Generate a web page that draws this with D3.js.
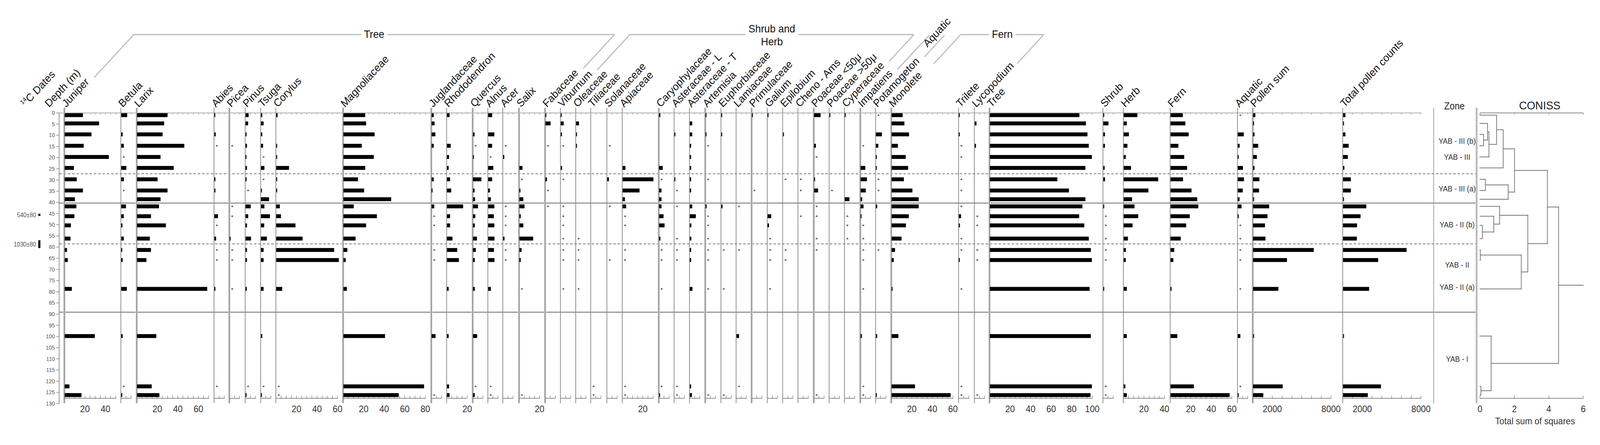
<!DOCTYPE html>
<html>
<head>
<meta charset="utf-8">
<script src="https://cdn.jsdelivr.net/npm/d3@7/dist/d3.min.js"></script>
<style>
  html, body { margin: 0; padding: 0; background: #fff; overflow: hidden; }
  svg { display: block; width: 100vw; height: 100vh; font-family: "Liberation Sans", Arial, sans-serif; }
</style>
</head>
<body>
<svg id="chart"></svg>
<script>
// sample depths (m)
var depths = [1, 4.7, 9.6, 14.7, 19.7, 24.6, 29.7, 34.7, 38.6, 41.8, 46.2, 50.3, 56.2, 61.3, 65.8, 78.7, 99.8, 122.3, 126.2];

var taxa = ['Juniper', 'Betula', 'Larix', 'Abies', 'Picea', 'Pinus', 'Tsuga', 'Corylus', 'Magnoliaceae',
  'Juglandaceae', 'Rhododendron', 'Quercus', 'Alnus', 'Acer', 'Salix', 'Fabaceae', 'Viburnum', 'Oleaceae',
  'Tiliaceae', 'Solanaceae', 'Apiaceae', 'Caryophylaceae', 'Asteraceae - L', 'Asteraceae - T', 'Artemisia',
  'Euphorbiaceae', 'Lamiaceae', 'Primulaceae', 'Galium', 'Epilobium', 'Cheno - Ams', 'Poaceae <50\u03bc',
  'Poaceae >50\u03bc', 'Cyperaceae', 'Impatiens', 'Potamogeton', 'Monolete', 'Trilete', 'Lycopodium',
  'Tree', 'Shrub', 'Herb', 'Fern', 'Aquatic', 'Pollen sum', 'Total pollen counts'];

// percentages (0.3 = trace, drawn as +)
var juniper = [17.7, 33.4, 26, 18.5, 42.9, 8.9, 11.7, 17.7, 9.9, 11.3, 9.4, 6, 5.6, 2.2, 3, 6.9, 29.3, 4.6, 16.3];
var betula = [5.8, 0, 1.4, 2.5, 0.3, 5, 2.6, 0.3, 0, 4.6, 2.5, 1.2, 2.5, 1, 1.4, 5.5, 1.4, 0.3, 1];
var larix = [29.6, 26.3, 24.8, 45.9, 22.8, 35.6, 19.9, 29.6, 22.8, 21.3, 13.5, 28, 12.4, 13.5, 9.1, 68.2, 18.7, 14.2, 21.7];
var abies = [0.8, 0, 1.3, 0.3, 0, 0, 1, 1, 0, 0, 3.5, 0.3, 1.7, 0.3, 0.3, 1, 0, 0.3, 0];
var picea = [0, 0, 0, 0.3, 0, 0, 0, 0, 0, 0.3, 0.3, 0, 0.8, 0.3, 0.3, 0.3, 0, 0, 0];
var pinus = [3, 2.5, 1, 1.4, 0.9, 1.4, 1, 0.3, 0, 5, 2.6, 1.4, 5.3, 1.4, 1.4, 1.2, 0, 0.3, 1];
var tsuga = [1.2, 2.5, 1.2, 2, 0.3, 3.3, 0.3, 0.8, 7.8, 3.3, 8.7, 3.1, 5.7, 2.5, 2.5, 2.5, 1.2, 0.3, 0.8];
var corylus = [1.3, 0, 0, 0.8, 0.8, 12.4, 0.8, 0.8, 0, 3.5, 4.6, 18.7, 25.6, 56.3, 60.9, 5.8, 0, 0.3, 0.3];
var magnoliaceae = [21.2, 22, 30.3, 17.9, 29.5, 21.2, 14.1, 20.1, 46.4, 10, 32.5, 22, 11.8, 3.8, 2.2, 3.3, 40.4, 78.4, 53.8];
var juglandaceae = [2, 2.8, 3.6, 2, 0, 0, 2, 0.7, 0, 2.5, 0.3, 0.3, 0, 0.3, 0.3, 0, 3.8, 0, 0.3];
var rhododendron = [2.5, 0, 0, 3.6, 2, 1.6, 3, 4.1, 0, 15.7, 3, 3, 5.3, 9.9, 11.6, 1.6, 1.6, 2, 2.5];
var quercus = [0, 0, 1.5, 0.3, 0.8, 0, 8.1, 1.5, 2, 4.8, 2.2, 1.7, 3.8, 2.7, 1.7, 1.7, 4, 0.3, 1.7];
var alnus = [3.8, 0, 6, 3.8, 0.3, 5, 3.8, 1.7, 2.6, 6, 5.5, 6, 6.1, 5.6, 6.1, 2.6, 0, 0.3, 0.3];
var acer = [0, 0, 0, 0.3, 1.1, 0, 0, 0, 0, 0.3, 0.3, 0.3, 1.3, 0.3, 0.3, 0, 0, 0, 0];
var salix = [0, 0, 0, 0, 0, 3, 0.3, 1, 3.8, 5, 1.3, 3.8, 13.4, 2.1, 1.3, 0.3, 0, 0, 0.3];
var fabaceae = [0.7, 5, 0, 0.3, 0, 0, 1.5, 0.3, 0, 0.3, 0, 0, 0, 0, 0, 0, 0, 0, 0];
var viburnum = [0.7, 2.8, 1.1, 0.3, 0, 1.3, 0.3, 0, 0, 0.3, 0.3, 0.3, 0.3, 0.3, 0.3, 0.3, 0, 0, 0];
var oleaceae = [0, 2.8, 0.7, 0.7, 0, 0, 0, 0, 0, 0, 0, 0, 0.3, 0.3, 0.3, 0.3, 0, 0, 0];
var tiliaceae = [0, 0, 0, 0, 0, 0, 0, 0, 0, 0, 0, 0, 0, 0, 0, 0, 0, 0.3, 0.3];
var solanaceae = [0, 0, 0, 0.3, 0, 0, 1.6, 0, 0, 0.3, 0, 0, 0, 0, 0.3, 0, 0, 0, 0];
var apiaceae = [0, 0, 0, 0, 0, 2.8, 30, 16.5, 2.3, 3.5, 0.3, 0.3, 0, 0.3, 0.3, 0, 0, 0.3, 0.3];
var caryophylaceae = [1.2, 0, 0, 0, 0, 3.5, 0.3, 2.3, 2.3, 2.3, 4.3, 5.3, 1.2, 0.3, 0.3, 0.3, 0, 0.3, 0.7];
var asteraceaeL = [0, 0, 0.7, 0, 0, 0, 0.7, 0.3, 0, 0.3, 0, 0, 0.3, 0.3, 0.3, 0, 0, 0.3, 0.3];
var asteraceaeT = [0, 2.3, 2.3, 1.2, 1.2, 1.2, 1.2, 1.2, 0, 2.3, 5.8, 1.4, 1.4, 1.2, 1.2, 2.5, 0, 1.2, 2];
var artemisia = [0.7, 0, 0.7, 0.3, 0, 0, 0.3, 0, 0, 1, 0.3, 0.3, 0.3, 0.3, 0.3, 0.3, 0, 0, 0.3];
var euphorbiaceae = [0.8, 0, 0.8, 0, 0, 0, 0, 0, 0, 1.2, 0, 0, 0, 0.3, 0, 0.3, 0, 0, 0.3];
var lamiaceae = [0, 0, 0, 0, 0, 0, 0, 0, 0, 0.3, 0, 0, 0, 0.3, 0, 0, 2.5, 0.3, 0];
var primulaceae = [0.8, 0, 0, 0, 0, 0, 0, 0.3, 0, 0, 0, 0, 0, 0, 0, 0, 0, 0, 0];
var galium = [0.7, 0, 0, 0, 0, 0, 0, 0, 0, 0, 3.5, 1.3, 0.3, 0.3, 0.3, 0.3, 0, 0, 0];
var epilobium = [0, 0, 0.5, 0, 0, 0, 0.3, 0, 0, 0, 0, 0, 0, 0.3, 0.3, 0, 0, 0, 0];
var chenoAms = [0, 0, 0, 0, 0, 0, 0.3, 0.3, 0, 0, 0.3, 0, 0, 0, 0, 0, 0, 0, 0];
var poaceaeSmall = [6.3, 0, 0, 1.7, 0.3, 0, 0.7, 3.8, 0, 0.3, 0.3, 0, 0.3, 0.3, 0, 0, 0, 0, 0.3];
var poaceaeLarge = [0.8, 0, 0, 0, 0, 0, 0, 0.3, 0, 0, 0, 0, 0, 0, 0, 0, 0, 0, 0];
var cyperaceae = [0.5, 0, 0, 0, 0, 0, 0, 0, 4.5, 0, 0.3, 0.3, 0.3, 0, 0, 0, 0, 0, 0];
var impatiens = [0, 0, 0, 0.3, 0, 4.5, 6.1, 5, 1.5, 2.8, 0.5, 0.3, 0.3, 0.3, 0.3, 0.3, 1.2, 0.3, 0.3];
var potamogeton = [0.3, 0, 5.8, 2.3, 0.7, 0.7, 0.3, 0.3, 0, 1.2, 0, 0, 0, 0.3, 0, 0, 1.2, 0, 0.7];
var monolete = [10.7, 12.4, 16.9, 6.1, 13.7, 16, 11.9, 20.2, 26.3, 26.3, 16.7, 13.9, 9.6, 3.3, 2.1, 0.8, 6.6, 22.7, 57.4];
var trilete = [0.8, 0, 0.8, 0.3, 0.3, 0, 0.3, 0.3, 0, 0.3, 2.1, 1, 0.3, 0.3, 0.5, 0.3, 0, 0.3, 0.3];
var lycopodium = [0, 1.7, 0, 1.2, 0, 0, 0, 0, 0, 0, 0.3, 0.3, 0, 0.3, 0.3, 0, 0, 0, 0.3];
var treeSum = [87.1, 93.4, 94.9, 96.2, 99.2, 92.9, 65.6, 76.9, 92.9, 90, 86.8, 91.8, 96.2, 98.2, 99.2, 97, 98.2, 99.2, 97.9];
var shrubSum = [0.5, 5, 1.6, 1.6, 0, 1.3, 1.7, 0, 0, 0.5, 0.3, 0.3, 0.3, 0.3, 0.3, 0.5, 0, 0.3, 0.3];
var herbSum = [13.3, 3, 5, 3.6, 2, 7.1, 33.5, 24, 8.1, 10.5, 14.1, 8.6, 4.1, 2.1, 2, 3, 3, 1.6, 3];
var fernSum = [11.9, 14.4, 17.6, 7.6, 13.3, 16.1, 12.1, 20.4, 26, 27, 18.7, 15.2, 9.9, 3.6, 2.7, 1, 6.6, 22.7, 57.5];
var aquaticSum = [0.3, 0, 5.8, 1.8, 0.6, 5, 6, 4.8, 1.7, 3.6, 0.5, 0.3, 0.3, 0.3, 0.3, 0.3, 2.5, 0.3, 0.8];
// counts
var pollenSum = [225, 60, 140, 520, 380, 140, 640, 605, 85, 1640, 1470, 1210, 1260, 6195, 3460, 2585, 85, 3020, 1040];
var totalCounts = [242, 90, 242, 572, 484, 132, 792, 792, 90, 2376, 1782, 1430, 1408, 6490, 3586, 2662, 90, 3872, 2530];

var taxonValues = [juniper, betula, larix, abies, picea, pinus, tsuga, corylus, magnoliaceae, juglandaceae,
  rhododendron, quercus, alnus, acer, salix, fabaceae, viburnum, oleaceae, tiliaceae, solanaceae, apiaceae,
  caryophylaceae, asteraceaeL, asteraceaeT, artemisia, euphorbiaceae, lamiaceae, primulaceae, galium,
  epilobium, chenoAms, poaceaeSmall, poaceaeLarge, cyperaceae, impatiens, potamogeton, monolete, trilete,
  lycopodium, treeSum, shrubSum, herbSum, fernSum, aquaticSum, pollenSum, totalCounts];

// x axis extent of every panel
var axisMax = [50, 10, 70, 10, 10, 10, 10, 60, 80, 10, 20, 10, 10, 10, 20, 10, 10, 10, 10, 10, 30,
  10, 10, 10, 10, 10, 10, 10, 10, 10, 10, 10, 10, 10, 10, 10, 60, 10, 10, 100, 10, 40, 60, 10, 8000, 8000];
var pctTickLabels = [20, 40, 60, 80, 100];
var countTickLabels = [2000, 8000];

var depthTicks = d3.range(0, 131, 5);
var dateLabels = ['540\u00b180', '1030\u00b180'];
var dateDepths = [45.6, 58.7];
var dateSpans = [1, 3.5];

var zoneNames = ['YAB - III (b)', 'YAB - III', 'YAB - III (a)', 'YAB - II (b)', 'YAB - II', 'YAB - II (a)', 'YAB - I'];
var zoneLabelDepths = [12.6, 19.7, 33.9, 50, 67.9, 78, 110];
var zoneLineDepths = [27.2, 40.3, 58.6, 89.1];
var zoneLineDashed = [true, false, true, false];

// CONISS merges, hclust style: negative = sample (1-based), positive = earlier merge
var conissLeft = [-3, -2, 2, -1, 4, -7, 6, 5, -12, -11, -10, -14, 12, 11, 8, -18, -17, 15];
var conissRight = [-4, 1, -5, 3, -6, -8, -9, 7, -13, 9, 10, -15, -16, 13, 14, -19, 16, 17];
var conissHeight = [0.21, 0.44, 0.52, 0.965, 1.35, 0.315, 1.64, 2.01, 0.14, 0.8, 1.14, 0.02, 2.4, 2.78, 3.92, 0.056, 0.65, 4.57];
var conissTicks = [0, 2, 4, 6];

// layout (left edge of each panel, in px)
var panelX = [178.4, 335, 379, 593.2, 635.7, 679.6, 722.5, 764.7, 951, 1195.5, 1238, 1310.2, 1352.2, 1393.7,
  1438.7, 1510.9, 1553.4, 1595.8, 1637.4, 1682.2, 1724.7, 1826, 1868.5, 1911.2, 1954.8, 1998.3, 2040.4,
  2083.4, 2126.8, 2169.4, 2211.8, 2255.7, 2298.2, 2340.7, 2384.6, 2427, 2470.5, 2656.9, 2700.8, 2742.8,
  3057.2, 3113.8, 3243.6, 3430, 3472.5, 3721.8];
var bandAxis = [0, 2, 4, 8, 9, 11, 14, 15, 21, 24, 27, 31, 34, 36, 39, 44];

var W = 4435, H = 1139,
  PX = 2.85,
  countW = 217,
  barH = 10,
  axisY = 1019.5,
  bracketY = 88.5,
  labelY = 276,
  zoneLeft = 3974,
  zoneRight = 4093;

var svg = d3.select('#chart')
  .attr('viewBox', '0 0 ' + W + ' ' + H)
  .attr('preserveAspectRatio', 'none');

svg.append('rect').attr('width', W).attr('height', H).attr('fill', '#fff');

var y = d3.scaleLinear().domain([0, 130]).range([289, 1033]);

var panels = taxa.map(function(name, i) {
  var isCount = axisMax[i] > 100;
  var w = isCount ? countW : axisMax[i] * PX;
  return {
    name: name,
    values: taxonValues[i],
    count: isCount,
    x: d3.scaleLinear().domain([0, axisMax[i]]).range([panelX[i], panelX[i] + w])
  };
});

// top grey line
svg.append('line')
  .attr('x1', 164).attr('x2', panelX[45] + countW)
  .attr('y1', y(0)).attr('y2', y(0))
  .attr('stroke', '#c6c6c6').attr('stroke-width', 3);

// depth axis
var depthG = svg.append('g');
depthG.append('line')
  .attr('x1', 164).attr('x2', 164)
  .attr('y1', y(0)).attr('y2', y(130))
  .attr('stroke', '#888').attr('stroke-width', 2);
depthG.selectAll('.dt')
  .data(depthTicks)
  .enter()
  .append('line')
  .attr('x1', 156).attr('x2', 164)
  .attr('y1', function(d) { return y(d); })
  .attr('y2', function(d) { return y(d); })
  .attr('stroke', '#888').attr('stroke-width', 1.5);
depthG.selectAll('text')
  .data(depthTicks)
  .enter()
  .append('text')
  .attr('x', 152)
  .attr('y', function(d) { return y(d) + 5; })
  .attr('text-anchor', 'end')
  .attr('font-size', 15)
  .attr('fill', '#555')
  .text(function(d) { return d; });

// 14C dates
dateLabels.forEach(function(t, i) {
  svg.append('text')
    .attr('x', 100).attr('y', y(dateDepths[i]) + 6)
    .attr('text-anchor', 'end')
    .attr('font-size', 16)
    .attr('fill', '#555')
    .text(t);
  svg.append('rect')
    .attr('x', 106)
    .attr('y', y(dateDepths[i] - dateSpans[i] / 2))
    .attr('width', 6)
    .attr('height', y(dateSpans[i]) - y(0))
    .attr('fill', '#111');
});

// zone lines
zoneLineDepths.forEach(function(d, i) {
  svg.append('line')
    .attr('x1', 164).attr('x2', zoneRight)
    .attr('y1', y(d)).attr('y2', y(d))
    .attr('stroke', zoneLineDashed[i] ? '#777' : '#6a6a6a')
    .attr('stroke-width', 2)
    .attr('stroke-dasharray', zoneLineDashed[i] ? '7,5' : null);
});

// panels
var labelEnds = [];
panels.forEach(function(p, i) {
  var g = svg.append('g');
  var x0 = p.x.range()[0], x1 = p.x.range()[1];
  var step = p.count ? 1000 : 5;
  var ticks = d3.range(0, p.x.domain()[1] + 0.001, step);

  if (bandAxis.indexOf(i) >= 0) {
    g.append('rect')
      .attr('x', x0 - 3).attr('y', labelY)
      .attr('width', 6).attr('height', 1032 - labelY)
      .attr('fill', '#cfcfcf');
  }
  g.append('line')
    .attr('x1', x0).attr('x2', x0)
    .attr('y1', labelY).attr('y2', 1032)
    .attr('stroke', '#888').attr('stroke-width', 2);

  // top ticks
  g.selectAll('.tt')
    .data(ticks)
    .enter()
    .append('line')
    .attr('x1', function(d) { return p.x(d); })
    .attr('x2', function(d) { return p.x(d); })
    .attr('y1', y(0)).attr('y2', y(0) + 4)
    .attr('stroke', '#999').attr('stroke-width', 1.5);

  // bottom axis
  g.append('line')
    .attr('x1', x0).attr('x2', x1)
    .attr('y1', axisY).attr('y2', axisY)
    .attr('stroke', '#8a8a8a').attr('stroke-width', 2);
  g.selectAll('.bt')
    .data(ticks)
    .enter()
    .append('line')
    .attr('x1', function(d) { return p.x(d); })
    .attr('x2', function(d) { return p.x(d); })
    .attr('y1', axisY - 7).attr('y2', axisY + 1)
    .attr('stroke', '#8a8a8a').attr('stroke-width', 1.5);
  var labs = (p.count ? countTickLabels : pctTickLabels).filter(function(d) { return d <= p.x.domain()[1]; });
  g.selectAll('.tl')
    .data(labs)
    .enter()
    .append('text')
    .attr('x', function(d) { return p.x(d); })
    .attr('y', 1055)
    .attr('text-anchor', 'middle')
    .attr('font-size', 24)
    .attr('fill', '#333')
    .text(function(d) { return d; });

  // bars
  var rows = p.values.map(function(v, j) { return { v: v, d: depths[j] }; });
  g.selectAll('.bar')
    .data(rows.filter(function(r) { return p.count ? r.v > 0 : r.v >= 0.5; }))
    .enter()
    .append('rect')
    .attr('x', x0 + 1)
    .attr('y', function(r) { return y(r.d) - barH / 2; })
    .attr('width', function(r) { return Math.max(2.5, p.x(r.v) - x0); })
    .attr('height', barH)
    .attr('fill', '#000');
  // traces
  g.selectAll('.trace')
    .data(rows.filter(function(r) { return !p.count && r.v > 0 && r.v < 0.5; }))
    .enter()
    .append('path')
    .attr('transform', function(r) { return 'translate(' + (x0 + 8) + ',' + y(r.d) + ')'; })
    .attr('d', 'M-3,0H3M0,-2.5V2.5')
    .attr('stroke', '#444').attr('stroke-width', 1.5);

  // rotated name
  var ox = x0 + 5;
  var t = g.append('text')
    .attr('transform', 'translate(' + ox + ',' + labelY + ') rotate(-45)')
    .attr('font-size', 28)
    .attr('fill', '#111')
    .text(p.name);
  var len = t.node().getComputedTextLength();
  labelEnds.push([ox + len * Math.SQRT1_2, labelY - len * Math.SQRT1_2]);
});

// left column titles
svg.append('text')
  .attr('transform', 'translate(136,' + labelY + ') rotate(-45)')
  .attr('font-size', 28).attr('fill', '#111')
  .text('Depth (m)');
var cdates = svg.append('text')
  .attr('transform', 'translate(70,' + labelY + ') rotate(-45)')
  .attr('font-size', 28).attr('fill', '#111');
cdates.append('tspan').attr('font-size', 16).attr('dy', -11).text('14');
cdates.append('tspan').attr('dy', 11).text('C Dates');

// group brackets
function diagonal(i, gap, topY) {
  var e = labelEnds[i];
  var sx = e[0] + gap * Math.SQRT1_2, sy = e[1] - gap * Math.SQRT1_2;
  return [sx, sy, sx + (sy - topY), topY];
}
function bracketLine(pts) {
  svg.append('line')
    .attr('x1', pts[0]).attr('y1', pts[1])
    .attr('x2', pts[2]).attr('y2', pts[3])
    .attr('stroke', '#bdbdbd').attr('stroke-width', 3);
}
var groups = [
  { lines: ['Tree'], from: 0, to: 15, gapL: 18, gapR: 18 },
  { lines: ['Shrub and', 'Herb'], from: 16, to: 33, gapL: 18, gapR: 18 },
  { lines: ['Fern'], from: 36, to: 38, gapL: 45, gapR: 10 }
];
groups.forEach(function(gr) {
  var a = diagonal(gr.from, gr.gapL, bracketY),
    b = diagonal(gr.to, gr.gapR, bracketY);
  bracketLine(a);
  bracketLine(b);
  var cx = (a[2] + b[2]) / 2;
  var txt = svg.append('text')
    .attr('text-anchor', 'middle')
    .attr('font-size', 28)
    .attr('fill', '#111');
  var tw = 0;
  if (gr.lines.length === 1) {
    txt.attr('x', cx).attr('y', bracketY + 9).text(gr.lines[0]);
    tw = txt.node().getComputedTextLength();
  } else {
    gr.lines.forEach(function(l, k) {
      var ts = txt.append('tspan').attr('x', cx).attr('y', k === 0 ? 83 : 116).text(l);
      tw = Math.max(tw, ts.node().getComputedTextLength());
    });
  }
  bracketLine([a[2], bracketY, cx - tw / 2 - 8, bracketY]);
  bracketLine([cx + tw / 2 + 8, bracketY, b[2], bracketY]);
});
// aquatic group (Impatiens, Potamogeton)
bracketLine(diagonal(34, 17, 89));
bracketLine(diagonal(35, 18, 90));
svg.append('text')
  .attr('transform', 'translate(' + (labelEnds[35][0] + 21) + ',' + (labelEnds[35][1] - 36) + ') rotate(-45)')
  .attr('font-size', 28).attr('fill', '#111')
  .text('Aquatic');

// zone column
[zoneLeft, zoneRight].forEach(function(x, i) {
  if (i === 1) {
    svg.append('rect').attr('x', x - 3).attr('y', labelY).attr('width', 6).attr('height', 1032 - labelY).attr('fill', '#d2d2d2');
  }
  svg.append('line')
    .attr('x1', x).attr('x2', x)
    .attr('y1', labelY).attr('y2', 1032)
    .attr('stroke', i === 0 ? '#999' : '#aaa').attr('stroke-width', 2);
});
svg.append('text')
  .attr('x', (zoneLeft + zoneRight) / 2 - 2).attr('y', 280)
  .attr('text-anchor', 'middle').attr('font-size', 25).attr('fill', '#222')
  .text('Zone');
svg.selectAll('.zl')
  .data(zoneNames)
  .enter()
  .append('text')
  .attr('x', 4039)
  .attr('y', function(d, i) { return y(zoneLabelDepths[i]) + 7; })
  .attr('text-anchor', 'middle')
  .attr('font-size', 20)
  .attr('fill', '#333')
  .text(function(d) { return d; });

// CONISS
var cx = d3.scaleLinear().domain([0, 6]).range([4102.3, 4388.5]);
var cg = svg.append('g');
[y(0), axisY].forEach(function(yy, k) {
  cg.append('line')
    .attr('x1', cx(0)).attr('x2', cx(6))
    .attr('y1', yy).attr('y2', yy)
    .attr('stroke', '#8a8a8a').attr('stroke-width', 2);
  cg.selectAll('.ct' + k)
    .data(conissTicks)
    .enter()
    .append('line')
    .attr('x1', function(d) { return cx(d); })
    .attr('x2', function(d) { return cx(d); })
    .attr('y1', k === 0 ? yy : yy - 7)
    .attr('y2', k === 0 ? yy + 5 : yy + 1)
    .attr('stroke', '#8a8a8a').attr('stroke-width', 1.5);
});
cg.selectAll('.cl')
  .data(conissTicks)
  .enter()
  .append('text')
  .attr('x', function(d) { return cx(d); })
  .attr('y', 1055)
  .attr('text-anchor', 'middle')
  .attr('font-size', 24)
  .attr('fill', '#333')
  .text(function(d) { return d; });
cg.append('text')
  .attr('x', 4255).attr('y', 1086)
  .attr('text-anchor', 'middle').attr('font-size', 24).attr('fill', '#333')
  .text('Total sum of squares');
cg.append('text')
  .attr('x', 4268).attr('y', 280)
  .attr('text-anchor', 'middle').attr('font-size', 30).attr('fill', '#222')
  .text('CONISS');

var nodeY = [], nodeH = [];
function childPos(c) {
  return c < 0 ? { y: y(depths[-c - 1]), h: 0 } : { y: nodeY[c - 1], h: nodeH[c - 1] };
}
var segs = [];
conissLeft.forEach(function(l, i) {
  var a = childPos(l), b = childPos(conissRight[i]), h = conissHeight[i];
  segs.push([cx(a.h), a.y, cx(h), a.y]);
  segs.push([cx(b.h), b.y, cx(h), b.y]);
  segs.push([cx(h), a.y, cx(h), b.y]);
  nodeY[i] = (a.y + b.y) / 2;
  nodeH[i] = h;
});
var last = conissHeight.length - 1;
segs.push([cx(nodeH[last]), nodeY[last], cx(6), nodeY[last]]);
cg.selectAll('.seg')
  .data(segs)
  .enter()
  .append('line')
  .attr('x1', function(s) { return s[0]; })
  .attr('y1', function(s) { return s[1]; })
  .attr('x2', function(s) { return s[2]; })
  .attr('y2', function(s) { return s[3]; })
  .attr('stroke', '#777')
  .attr('stroke-width', 2)
  .attr('stroke-linecap', 'square');
</script>
</body>
</html>
